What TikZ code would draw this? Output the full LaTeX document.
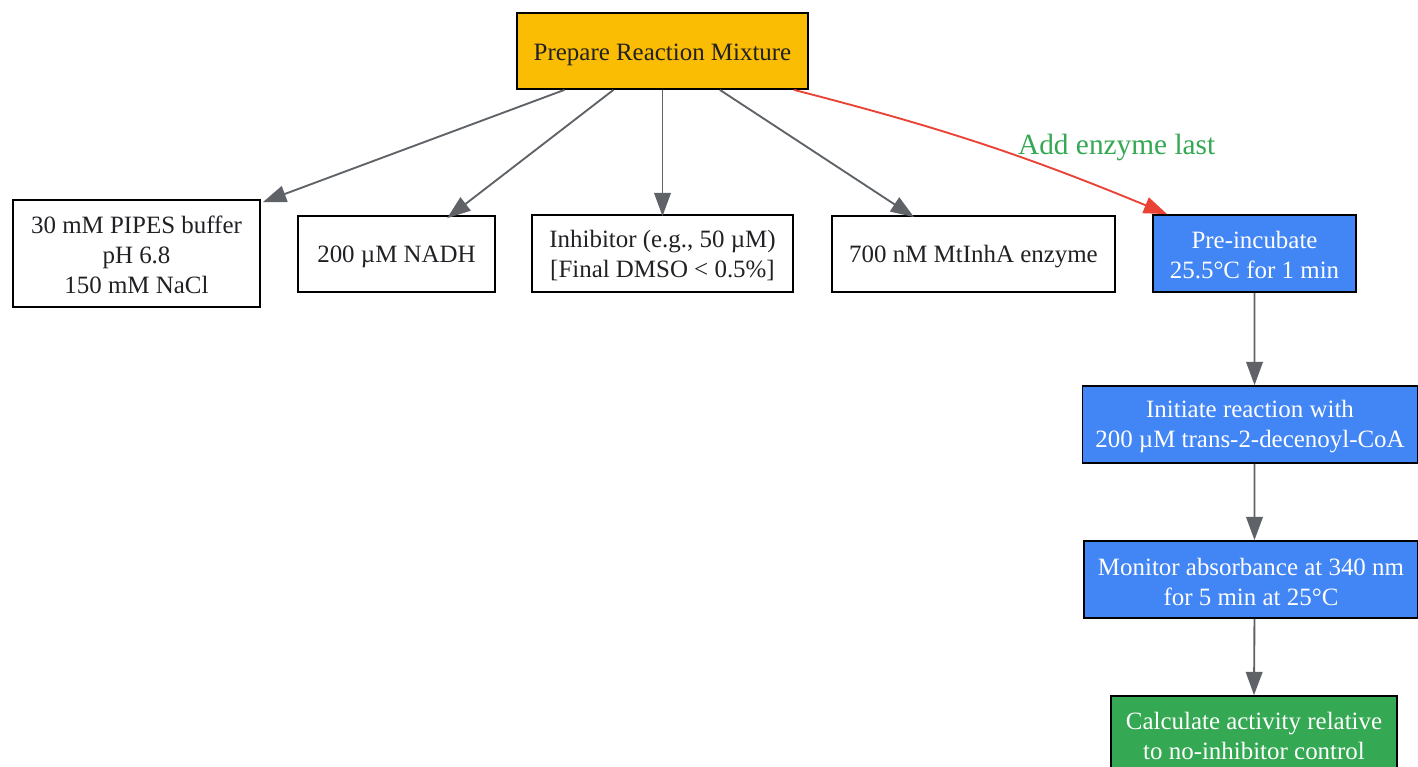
\documentclass[tikz,border=0pt]{standalone}
\usepackage{fontspec}
\setmainfont{Liberation Serif}
\usetikzlibrary{arrows.meta,positioning}
\definecolor{gyellow}{HTML}{FBBC04}
\definecolor{gblue}{HTML}{4285F4}
\definecolor{ggreen}{HTML}{34A853}
\definecolor{gred}{HTML}{EA4335}
\definecolor{ggray}{HTML}{5F6368}
\definecolor{gtext}{HTML}{202124}
% first line with extra height (shifts a multi-line text block down by half of #1)
\newcommand\firstline[2]{\raisebox{0pt}[\dimexpr\height+#1\relax][\depth]{#2}}
\tikzset{
  box/.style={draw=black, line width=1.3pt, align=center, inner sep=0pt,
    font=\fontsize{18.7}{22.5}\selectfont, text=gtext},
  oneline/.style={text height=12.4pt, text depth=0pt},
  whitebox/.style={box, fill=white},
  bluebox/.style={box, fill=gblue, text=white},
  conn/.style={draw=ggray, line width=1.4pt, -{Triangle[length=17.5pt,width=12.5pt]}},
  redconn/.style={draw=gred, line width=1.4pt, -{Triangle[length=17.5pt,width=12.5pt]}},
}
\begin{document}
\begin{tikzpicture}[x=0.75pt,y=-0.75pt]
\clip (0,0) rectangle (1418,767);
\fill[white] (0,0) rectangle (1418,767);
\node[box, oneline, text height=14.4pt, fill=gyellow, minimum width=218.25pt, minimum height=57pt] (prep) at (662.5,51) {Prepare Reaction Mixture};
\node[whitebox, minimum width=185.25pt, minimum height=80.25pt] (buffer) at (136.5,253.5) {\firstline{1.5pt}{30 mM PIPES buffer}\\pH 6.8\\150 mM NaCl};
\node[whitebox, oneline, minimum width=147.75pt, minimum height=57pt] (nadh) at (396.5,254) {200 µM NADH};
\node[whitebox, minimum width=195.75pt, minimum height=57.75pt] (inhib) at (662.5,253.5) {\firstline{2.6pt}{Inhibitor (e.g., 50 µM)}\\{}[Final DMSO < 0.5\%]};
\node[whitebox, oneline, minimum width=212.25pt, minimum height=57pt] (enzyme) at (973.5,254) {700 nM MtInhA enzyme};
\node[bluebox, minimum width=152.25pt, minimum height=57.75pt] (preinc) at (1254.5,253.5) {\firstline{3pt}{Pre-incubate}\\25.5°C for 1 min};
\node[bluebox, minimum width=251.25pt, minimum height=57.75pt] (init) at (1250,424.5) {\firstline{3.6pt}{Initiate reaction with}\\200 µM trans-2-decenoyl-CoA};
\node[bluebox, minimum width=250.5pt, minimum height=57.75pt] (monitor) at (1251,579.5) {\firstline{3pt}{Monitor absorbance at 340 nm}\\for 5 min at 25°C};
\node[box, fill=ggreen, text=white, minimum width=214.5pt, minimum height=57.75pt] (calc) at (1254,734.5) {\firstline{1.8pt}{Calculate activity relative}\\to no-inhibitor control};

\draw[conn] ([xshift=-73.5pt]prep.south) -- ([xshift=1.5pt,yshift=-2.25pt]buffer.north east);
\draw[conn] ([xshift=-36.75pt]prep.south) -- ([xshift=38pt,yshift=-2.25pt]nadh.north);
\draw[conn] (prep.south) -- ([yshift=-1.5pt]inhib.north);
\draw[conn] ([xshift=43pt]prep.south) -- ([xshift=-44.6pt,yshift=-1.5pt]enzyme.north);
\draw[redconn] ([xshift=-11.25pt]prep.south east) to[bend left=4]
  node[pos=0.6, anchor=base west, inner sep=0pt, yshift=1pt, text=ggreen, font=\fontsize{22}{26}\selectfont] (lbl) {Add enzyme last}
  ([xshift=11.25pt]preinc.north west);
\draw[conn] (preinc.south) -- ([xshift=3.4pt]init.north);
\draw[conn] ([xshift=3.4pt]init.south) -- ([xshift=2.6pt]monitor.north);
\draw[conn] ([xshift=2.6pt]monitor.south) -- (calc.north);
\end{tikzpicture}
\end{document}
